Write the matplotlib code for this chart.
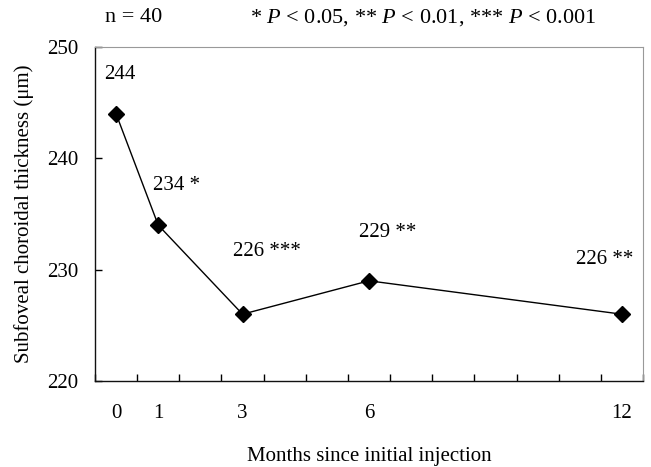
import matplotlib.pyplot as plt

plt.rcParams['font.family'] = ['Liberation Serif', 'DejaVu Serif']
plt.rcParams['mathtext.fontset'] = 'custom'
plt.rcParams['mathtext.rm'] = 'Liberation Serif'
plt.rcParams['mathtext.it'] = 'Liberation Serif:italic'

# data
months = [0, 1, 3, 6, 12]
thickness = [244, 234, 226, 229, 226]
labels = ["244", "234 *", "226 ***", "229 **", "226 **"]
# where each data label sits (x in months, y in µm)
label_x = [0.1, 1.43, 3.58, 6.45, 11.6]
label_y = [247.5, 237.6, 231.6, 233.3, 230.9]

W, H = 651, 467
fig = plt.figure(figsize=(W / 100, H / 100), dpi=100)
ax = fig.add_axes([95 / W, 1 - 381 / H, (643 - 95) / W, (381 - 47) / H])

ax.plot(months, thickness, color="black", lw=1, marker="D", ms=8.5,
        markerfacecolor="black", markeredgecolor="black")

for lx, ly, txt in zip(label_x, label_y, labels):
    ax.text(lx, ly, txt, ha="center", va="center", fontsize=15)

ax.set_xlim(-0.5, 12.5)
ax.set_ylim(220, 250)
ax.set_yticks([220, 230, 240, 250])

# ticks at category boundaries, labels only at the measured months
ax.set_xticks([i + 0.5 for i in range(-1, 13)])
ax.set_xticklabels([])
ax.set_xticks(months, minor=True)
ax.set_xticklabels([str(m) for m in months], minor=True)
ax.tick_params(axis="x", which="major", direction="in", length=5, width=1)
ax.tick_params(axis="x", which="minor", length=0, pad=16.5, labelsize=15)
ax.tick_params(axis="y", direction="in", length=5, width=1, pad=12, labelsize=15)

for s in ["top", "right"]:
    ax.spines[s].set_color("#999999")
    ax.spines[s].set_linewidth(0.8)
for s in ["left", "bottom"]:
    ax.spines[s].set_color("#111111")
    ax.spines[s].set_linewidth(1)

fig.text((95 + 643) / 2 / W, 1 - 461 / H, "Months since initial injection",
         fontsize=15, ha="center", va="baseline")
fig.text(24 / W, 1 - 214 / H, "Subfoveal choroidal thickness (μm)",
         fontsize=15, ha="center", va="center", rotation=90)

fig.text(105 / W, 1 - 18 / H, "n = 40", fontsize=16, va="center")
fig.text(250 / W, 1 - 18 / H,
         "* $P$ < 0.05, ** $P$ < 0.01, *** $P$ < 0.001",
         fontsize=16, va="center")

fig.savefig("out.png", dpi=100)
